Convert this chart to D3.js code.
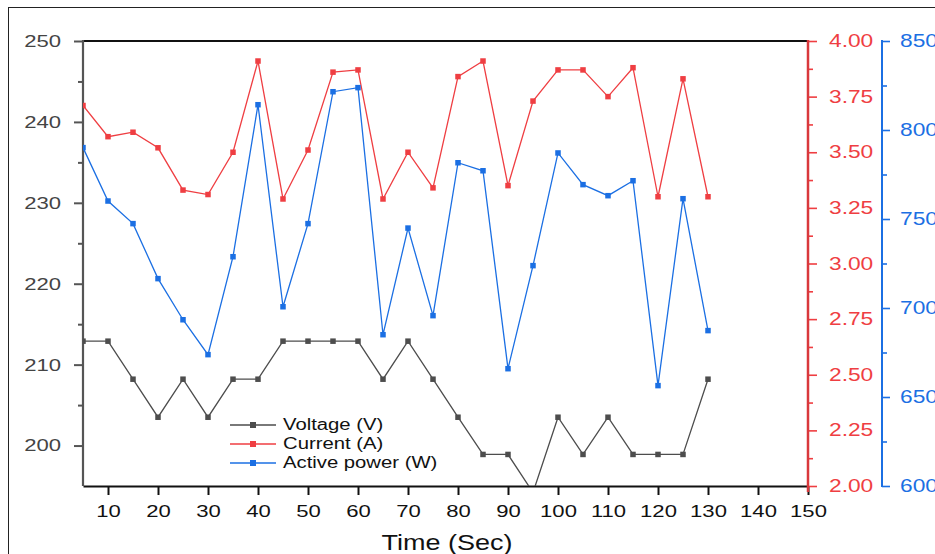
<!DOCTYPE html>
<html lang=en>
<meta charset=utf-8>
<title>Voltage / Current / Active power</title>
<style>
    body { margin: 0; background: #fff; }
    text { font-family: "Liberation Sans", Arial, sans-serif; }
</style>
<svg id=chart width=935 height=554></svg>
<script src=https://d3js.org/d3.v7.min.js></script>
<script>
// time axis (sec)
var time = [5, 10, 15, 20, 25, 30, 35, 40, 45, 50, 55, 60, 65, 70, 75, 80, 85, 90, 95, 100, 105, 110, 115, 120, 125, 130];
var xTicks = [10, 20, 30, 40, 50, 60, 70, 80, 90, 100, 110, 120, 130, 140, 150];

// series
var voltage = [212.9, 212.9, 208.2, 203.5, 208.2, 203.5, 208.2, 208.2, 212.9, 212.9, 212.9, 212.9, 208.2,
    212.9, 208.2, 203.5, 198.9, 198.9, 194.2, 203.5, 198.9, 203.5, 198.9, 198.9, 198.9, 208.2];
var current = [3.71, 3.57, 3.59, 3.52, 3.33, 3.31, 3.50, 3.91, 3.29, 3.51, 3.86, 3.87, 3.29,
    3.50, 3.34, 3.84, 3.91, 3.35, 3.73, 3.87, 3.87, 3.75, 3.88, 3.30, 3.83, 3.30];
var power = [790.1, 760.1, 747.4, 716.5, 693.4, 673.8, 728.8, 814.2, 700.7, 747.4, 821.5, 823.8, 685.0,
    744.9, 695.7, 781.6, 777.1, 665.9, 723.8, 787.1, 769.3, 763.1, 771.5, 656.4, 761.4, 687.3];

var vTicks = [200, 210, 220, 230, 240, 250];
var vMinor = [205, 215, 225, 235, 245];
var aTicks = [2.00, 2.25, 2.50, 2.75, 3.00, 3.25, 3.50, 3.75, 4.00];
var pTicks = [600, 650, 700, 750, 800, 850];

var seriesNames = ["Voltage (V)", "Current (A)", "Active power (W)"];
var colors = ["#4d4d4d", "#ef3e42", "#1b6fe3"];

(function () {
    var svg = d3.select("#chart");
    var left = 83, right = 808, mTop = 41, bottom = 486;
    var blueAxisX = 882;
    var sx = 1.3;   // text in the picture is drawn wide

    // outer frame
    svg.append("rect").attr("x", 8.5).attr("y", 7.5).attr("width", 960).attr("height", 600)
        .attr("fill", "none").attr("stroke", "#222").attr("stroke-width", 1);

    // scales
    var x = d3.scaleLinear().domain([5, 150]).range([left, right]);
    var yV = d3.scaleLinear().domain([195, 250]).range([bottom, mTop]);
    var yA = d3.scaleLinear().domain([2, 4]).range([bottom, mTop]);
    var yP = d3.scaleLinear().domain([600, 850]).range([bottom, mTop]);

    function minors(major) {
        var out = [];
        for (var i = 0; i < major.length - 1; i++) out.push((major[i] + major[i + 1]) / 2);
        return out;
    }

    // widen tick labels; xOff is the label offset from the axis line
    function widen(sel, xOff) {
        sel.attr("transform", "scale(" + sx + ",1)");
        if (xOff !== undefined) sel.attr("x", xOff / sx);
    }

    // top frame line
    svg.append("line").attr("x1", left).attr("x2", right).attr("y1", mTop).attr("y2", mTop)
        .attr("stroke", "#111").attr("stroke-width", 2);

    // bottom axis
    var gx = svg.append("g").attr("transform", "translate(0," + bottom + ")")
        .call(d3.axisBottom(x).tickValues(xTicks).tickSize(9).tickSizeOuter(0).tickPadding(10));
    gx.select(".domain").attr("stroke", "#111").attr("stroke-width", 2.2);
    gx.selectAll(".tick line").attr("stroke", "#111").attr("stroke-width", 2);
    gx.selectAll(".tick text").attr("font-size", 17).attr("fill", "#111").call(widen);

    svg.append("text").attr("transform", "translate(" + 447 + ",550) scale(1.2,1)")
        .attr("text-anchor", "middle").attr("font-size", 22.5).attr("fill", "#111").text("Time (Sec)");

    // left axis (voltage)
    var gl = svg.append("g").attr("transform", "translate(" + left + ",0)");
    gl.call(d3.axisLeft(yV).tickValues(vTicks).tickSize(9).tickSizeOuter(0).tickPadding(13));
    gl.selectAll(".tick text").attr("font-size", 17).attr("fill", "#444").call(widen, -22);
    gl.append("g").call(d3.axisLeft(yV).tickValues(vMinor).tickSize(5).tickFormat(""))
        .select(".domain").remove();
    gl.selectAll(".domain").remove();
    gl.selectAll(".tick line").attr("stroke", "#555").attr("stroke-width", 2);
    gl.append("line").attr("x1", 0).attr("x2", 0).attr("y1", mTop - 1).attr("y2", bottom)
        .attr("stroke", "#555").attr("stroke-width", 2.2);

    // right axis (current, red)
    var red = colors[1];
    var gr = svg.append("g").attr("transform", "translate(" + right + ",0)");
    gr.call(d3.axisRight(yA).tickValues(aTicks).tickSize(9).tickSizeOuter(0).tickPadding(12)
        .tickFormat(d3.format(".2f")));
    gr.selectAll(".tick text").attr("font-size", 17.5).attr("fill", red).call(widen, 21);
    gr.append("g").call(d3.axisRight(yA).tickValues(minors(aTicks)).tickSize(5).tickFormat(""))
        .select(".domain").remove();
    gr.selectAll(".domain").remove();
    gr.selectAll(".tick line").attr("stroke", red).attr("stroke-width", 1.6);
    gr.append("line").attr("x1", 0).attr("x2", 0).attr("y1", mTop - 1).attr("y2", bottom + 6)
        .attr("stroke", "#d9383c").attr("stroke-width", 2.5);

    // second right axis (power, blue)
    var blue = colors[2];
    var gp = svg.append("g").attr("transform", "translate(" + blueAxisX + ",0)");
    gp.call(d3.axisRight(yP).tickValues(pTicks).tickSize(8).tickSizeOuter(0).tickPadding(10));
    gp.selectAll(".tick text").attr("font-size", 17.5).attr("fill", blue).call(widen, 18);
    gp.append("g").call(d3.axisRight(yP).tickValues(minors(pTicks)).tickSize(5).tickFormat(""))
        .select(".domain").remove();
    gp.selectAll(".domain").remove();
    gp.selectAll(".tick line").attr("stroke", blue).attr("stroke-width", 1.6);
    gp.append("line").attr("x1", 0).attr("x2", 0).attr("y1", mTop - 1).attr("y2", bottom + 1)
        .attr("stroke", blue).attr("stroke-width", 2);

    // clip to the plot area
    svg.append("clipPath").attr("id", "plot-clip").append("rect")
        .attr("x", left).attr("y", mTop).attr("width", right - left).attr("height", bottom - mTop);

    // one series: polyline + square markers
    function drawSeries(values, yScale, color) {
        var pts = values.map(function (v, i) { return [time[i], v]; });
        var g = svg.append("g").attr("clip-path", "url(#plot-clip)");
        g.append("path").datum(pts)
            .attr("fill", "none").attr("stroke", color).attr("stroke-width", 1.3)
            .attr("d", d3.line().x(function (d) { return x(d[0]); }).y(function (d) { return yScale(d[1]); }));
        g.selectAll("rect.pt").data(pts.filter(function (d) { return yScale(d[1]) <= bottom; }))
            .enter().append("rect").attr("class", "pt")
            .attr("x", function (d) { return x(d[0]) - 2.75; })
            .attr("y", function (d) { return yScale(d[1]) - 2.75; })
            .attr("width", 5.5).attr("height", 5.5).attr("fill", color);
    }

    drawSeries(voltage, yV, colors[0]);
    drawSeries(current, yA, colors[1]);
    drawSeries(power, yP, colors[2]);

    // legend
    var legend = svg.append("g").attr("transform", "translate(230,425)");
    seriesNames.forEach(function (name, i) {
        var row = legend.append("g").attr("transform", "translate(0," + (i * 19) + ")");
        row.append("line").attr("x1", 0).attr("x2", 46).attr("y1", 0).attr("y2", 0)
            .attr("stroke", colors[i]).attr("stroke-width", 1.3);
        row.append("rect").attr("x", 20).attr("y", -3).attr("width", 6).attr("height", 6).attr("fill", colors[i]);
        row.append("text").attr("transform", "translate(53,0) scale(" + sx + ",1)").attr("dy", "0.35em")
            .attr("font-size", 15.6).attr("fill", "#111").text(name);
    });
})();
</script>
